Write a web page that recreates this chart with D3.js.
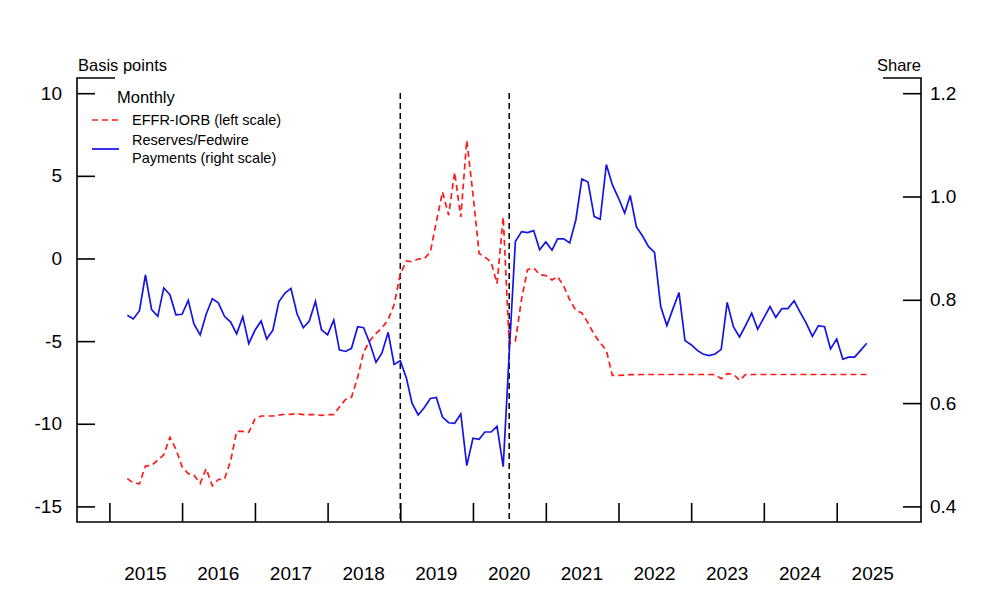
<!DOCTYPE html>
<html>
<head>
<meta charset="utf-8">
<script src="https://cdn.jsdelivr.net/npm/d3@7"></script>
<style>
  body { margin: 0; background: #fff; }
  svg { display: block; font-family: "Liberation Sans", Arial, sans-serif; }
</style>
</head>
<body>
<div id="chart"></div>
<script>
// monthly observations, first one is April 2015
var firstMonth = "2015-04-01";

// EFFR minus IORB, basis points (left scale)
var effrIorb = [
  -13.32, -13.58, -13.63, -12.56, -12.52, -12.2, -11.88, -10.82, -11.53,          // 2015
  -12.6, -13.02, -13.12, -13.61, -12.72, -13.75, -13.37, -13.35, -12.25, -10.46, -10.46, -10.52, // 2016
  -9.72, -9.53, -9.53, -9.53, -9.48, -9.42, -9.43, -9.39, -9.45, -9.45, -9.45, -9.49,  // 2017
  -9.45, -9.45, -8.99, -8.53, -8.40, -7.2, -5.65, -4.98, -4.53, -4.22, -3.69, -2.8,    // 2018
  -0.95, -0.15, -0.2, -0.03, -0.02, 0.39, 2.2, 4.03, 2.62, 5.22, 2.51, 7.15,           // 2019
  3.9, 0.3, 0.09, -0.21, -1.52, 2.51, -5.15, -5.0, -2.48, -0.68, -0.57, -0.97,         // 2020
  -1.04, -1.3, -1.1, -1.67, -2.5, -3.14, -3.3, -3.9, -4.6, -5.1, -5.56, -7.07,         // 2021
  -7.07, -7.06, -7.03, -7.03, -7.02, -7.02, -7.02, -7.02, -7.02, -7.02, -7.02, -7.02,  // 2022
  -7.02, -7.02, -7.02, -7.02, -7.03, -7.27, -6.97, -7.0, -7.37, -7.03, -7.02, -7.02,   // 2023
  -7.02, -7.02, -7.02, -7.02, -7.02, -7.02, -7.02, -7.02, -7.02, -7.02, -7.02, -7.02,  // 2024
  -7.02, -7.02, -7.02, -7.02, -7.02, -7.02                                              // 2025
];

// reserves / Fedwire payments, share (right scale)
var reservesShare = [
  0.770, 0.763, 0.779, 0.848, 0.781, 0.768, 0.823, 0.810, 0.771,                      // 2015
  0.772, 0.799, 0.753, 0.732, 0.772, 0.802, 0.794, 0.768, 0.757, 0.734, 0.767, 0.715,  // 2016
  0.741, 0.759, 0.724, 0.741, 0.796, 0.813, 0.822, 0.772, 0.746, 0.759, 0.797, 0.742,  // 2017
  0.732, 0.761, 0.703, 0.700, 0.706, 0.748, 0.746, 0.716, 0.679, 0.697, 0.737, 0.675,  // 2018
  0.682, 0.648, 0.600, 0.577, 0.591, 0.609, 0.611, 0.573, 0.562, 0.561, 0.579, 0.479,  // 2019
  0.532, 0.530, 0.544, 0.544, 0.555, 0.477, 0.695, 0.913, 0.932, 0.930, 0.934, 0.897,  // 2020
  0.912, 0.896, 0.918, 0.918, 0.910, 0.955, 1.034, 1.028, 0.961, 0.956, 1.062, 1.023,  // 2021
  0.997, 0.968, 1.002, 0.941, 0.924, 0.903, 0.892, 0.787, 0.750, 0.782, 0.814, 0.721,  // 2022
  0.713, 0.702, 0.695, 0.692, 0.695, 0.704, 0.795, 0.748, 0.728, 0.750, 0.774, 0.743,  // 2023
  0.765, 0.787, 0.766, 0.783, 0.783, 0.798, 0.776, 0.755, 0.729, 0.750, 0.748, 0.705,  // 2024
  0.724, 0.685, 0.689, 0.689, 0.702, 0.716                                              // 2025
];

var years = [2015, 2016, 2017, 2018, 2019, 2020, 2021, 2022, 2023, 2024, 2025];
var leftTicks = [10, 5, 0, -5, -10, -15];
var rightTicks = [1.2, 1.0, 0.8, 0.6, 0.4];
var markerDates = ["2019-01-01", "2020-07-01"];

var legendItems = [
  { lines: ["EFFR-IORB (left scale)"], color: "#ff1a1a", dash: "6,4" },
  { lines: ["Reserves/Fedwire", "Payments (right scale)"], color: "#1414e6", dash: null }
];

var width = 1000, height = 600;
var xLeft = 77, xRight = 921, yTop = 78, yBottom = 522;

var parse = d3.timeParse("%Y-%m-%d");
var start = parse(firstMonth);
var months = effrIorb.map(function (d, i) { return d3.timeMonth.offset(start, i); });

var x = d3.scaleTime()
  .domain([new Date(2015, 0, 1), new Date(2025, 0, 1)])
  .range([109.4, 836.7]);
var yL = d3.scaleLinear().domain([-15, 10]).range([506.4, 93.2]);
var yR = d3.scaleLinear().domain([0.4, 1.2]).range([506.4, 93.2]);

var svg = d3.select("#chart").append("svg")
  .attr("width", width)
  .attr("height", height);

// frame
svg.append("path")
  .attr("d", "M115," + yTop + "H" + xLeft + "V" + yBottom + "H" + xRight + "V" + yTop + "H883")
  .attr("fill", "none")
  .attr("stroke", "#000")
  .attr("stroke-width", 1.6);

// left axis, ticks point inward
var gl = svg.append("g")
  .attr("transform", "translate(" + xLeft + ",0)")
  .call(d3.axisRight(yL).tickValues(leftTicks).tickSize(18).tickFormat(function (d) { return String(d); }));
gl.select(".domain").remove();
gl.selectAll(".tick line").attr("stroke-width", 1.6);
gl.selectAll(".tick text")
  .attr("x", -15).attr("text-anchor", "end")
  .attr("font-size", 19).attr("font-family", "Liberation Sans, Arial, sans-serif");

// right axis
var gr = svg.append("g")
  .attr("transform", "translate(" + xRight + ",0)")
  .call(d3.axisLeft(yR).tickValues(rightTicks).tickSize(18).tickFormat(d3.format(".1f")));
gr.select(".domain").remove();
gr.selectAll(".tick line").attr("stroke-width", 1.6);
gr.selectAll(".tick text")
  .attr("x", 9).attr("text-anchor", "start")
  .attr("font-size", 19).attr("font-family", "Liberation Sans, Arial, sans-serif");

// bottom axis: ticks at year starts, labels centred mid-year
var gb = svg.append("g")
  .attr("transform", "translate(0," + yBottom + ")")
  .call(d3.axisTop(x).tickValues(years.map(function (y) { return new Date(y, 0, 1); })).tickSize(19).tickFormat(""));
gb.select(".domain").remove();
gb.selectAll(".tick line").attr("stroke-width", 1.6);

svg.append("g").selectAll("text")
  .data(years)
  .join("text")
  .attr("x", function (y) { return x(new Date(y, 6, 1)); })
  .attr("y", 580)
  .attr("text-anchor", "middle")
  .attr("font-size", 19)
  .text(function (y) { return y; });

// axis titles
svg.append("text").attr("x", 78).attr("y", 71).attr("font-size", 16.5).text("Basis points");
svg.append("text").attr("x", 921).attr("y", 71).attr("text-anchor", "end").attr("font-size", 16.5).text("Share");

// event markers
svg.append("g").selectAll("line")
  .data(markerDates)
  .join("line")
  .attr("x1", function (d) { return x(parse(d)); })
  .attr("x2", function (d) { return x(parse(d)); })
  .attr("y1", 93)
  .attr("y2", yBottom)
  .attr("stroke", "#000")
  .attr("stroke-width", 1.5)
  .attr("stroke-dasharray", "6,4");

// series
var lineL = d3.line().x(function (d, i) { return x(months[i]); }).y(function (d) { return yL(d); });
var lineR = d3.line().x(function (d, i) { return x(months[i]); }).y(function (d) { return yR(d); });

svg.append("path")
  .datum(effrIorb)
  .attr("d", lineL)
  .attr("fill", "none")
  .attr("stroke", legendItems[0].color)
  .attr("stroke-width", 1.7)
  .attr("stroke-dasharray", legendItems[0].dash);

svg.append("path")
  .datum(reservesShare)
  .attr("d", lineR)
  .attr("fill", "none")
  .attr("stroke", legendItems[1].color)
  .attr("stroke-width", 1.7);

// legend
var lg = svg.append("g");
lg.append("text").attr("x", 117).attr("y", 103).attr("font-size", 16.5).text("Monthly");

var rowY = [120, 149];
legendItems.forEach(function (item, i) {
  lg.append("line")
    .attr("x1", 92).attr("x2", 119)
    .attr("y1", rowY[i]).attr("y2", rowY[i])
    .attr("stroke", item.color)
    .attr("stroke-width", 1.7)
    .attr("stroke-dasharray", item.dash);
  var t = lg.append("text")
    .attr("x", 132)
    .attr("y", rowY[i] + 5 - (item.lines.length - 1) * 9)
    .attr("font-size", 14.5);
  item.lines.forEach(function (s, k) {
    t.append("tspan").attr("x", 132).attr("dy", k === 0 ? 0 : 18).text(s);
  });
});
</script>
</body>
</html>
